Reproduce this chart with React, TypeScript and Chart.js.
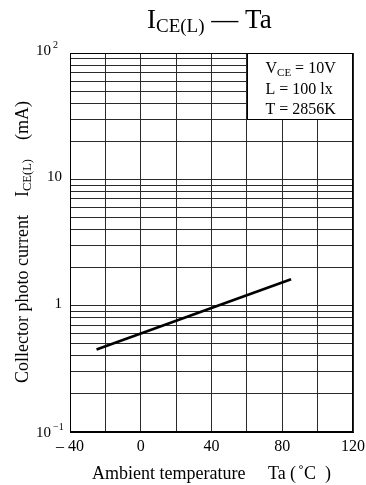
import React, { useEffect, useRef } from "react";
import { Chart, registerables } from "chart.js";

Chart.register(...registerables);

// ---- data ----
const temperatures = [-25, 85];
const photoCurrent = [0.45, 1.62];

const xGridValues = [-40, -20, 0, 20, 40, 60, 80, 100, 120];
const xTickValues = [-40, 0, 40, 80, 120];
const xTickLabels = ["\u2013 40", "0", "40", "80", "120"];

const yGridValues = [
  0.1, 0.2, 0.3, 0.4, 0.5, 0.6, 0.7, 0.8, 0.9,
  1, 2, 3, 4, 5, 6, 7, 8, 9,
  10, 20, 30, 40, 50, 60, 70, 80, 90, 100,
];
const yTickValues = [100, 10, 1, 0.1];
const yTickBases = ["10", "10", "1", "10"];
const yTickExponents = ["2", "", "", "\u22121"];

const boxXRange = [60, 120];
const boxYRange = [30, 100];

const FONT = '"Liberation Serif", "DejaVu Serif", serif';

function drawText(ctx: CanvasRenderingContext2D, s: string, x: number, y: number, size: number, align: CanvasTextAlign = "left") {
  ctx.font = `${size}px ${FONT}`;
  ctx.textAlign = align;
  ctx.textBaseline = "alphabetic";
  ctx.fillText(s, x, y);
  return ctx.measureText(s).width;
}

const decorPlugin = {
  id: "decor",
  beforeDatasetsDraw(chart: any) {
    const ctx: CanvasRenderingContext2D = chart.ctx;
    const { x, y } = chart.scales;
    const area = chart.chartArea;
    ctx.save();
    // frame
    ctx.strokeStyle = "#000";
    ctx.lineWidth = 1;
    ctx.strokeRect(Math.round(area.left) + 0.5, Math.round(area.top) + 0.5, Math.round(area.right - area.left) - 1, Math.round(area.bottom - area.top) - 1);
    // condition box
    const bl = Math.round(x.getPixelForValue(boxXRange[0])) + 0.5;
    const br = Math.round(x.getPixelForValue(boxXRange[1])) - 0.5;
    const bt = Math.round(y.getPixelForValue(boxYRange[1])) + 0.5;
    const bb = Math.round(y.getPixelForValue(boxYRange[0])) + 0.5;
    ctx.fillStyle = "#fff";
    ctx.fillRect(bl, bt, br - bl, bb - bt);
    ctx.strokeRect(bl, bt, br - bl, bb - bt);
    ctx.fillStyle = "#000";
    const tx = bl + 18;
    let w = drawText(ctx, "V", tx, bt + 19, 16);
    const w2 = drawText(ctx, "CE", tx + w, bt + 22, 11);
    drawText(ctx, " = 10V", tx + w + w2, bt + 19, 16);
    drawText(ctx, "L = 100 lx", tx, bt + 40, 16);
    drawText(ctx, "T = 2856K", tx, bt + 60, 16);
    ctx.restore();
  },
  afterDraw(chart: any) {
    const ctx: CanvasRenderingContext2D = chart.ctx;
    const { x, y } = chart.scales;
    const area = chart.chartArea;
    ctx.save();
    ctx.fillStyle = "#000";

    // title
    let tx = 147;
    tx += drawText(ctx, "I", tx, 28, 27);
    tx += drawText(ctx, "CE(L)", tx, 32, 19);
    drawText(ctx, " \u2014 Ta", tx, 28, 27);

    // y tick labels
    yTickValues.forEach((v, i) => {
      const py = y.getPixelForValue(v);
      const exp = yTickExponents[i];
      if (exp) {
        const off = i === yTickValues.length - 1 ? 5 : 2;
        drawText(ctx, yTickBases[i], 51, py + off, 15, "right");
        drawText(ctx, exp, 53, py + off - 7, 10);
      } else {
        drawText(ctx, yTickBases[i], 62, py + 2, 15, "right");
      }
    });

    // x tick labels
    xTickValues.forEach((v, i) => {
      drawText(ctx, xTickLabels[i], x.getPixelForValue(v), area.bottom + 19, 16, "center");
    });

    // x title
    drawText(ctx, "Ambient temperature", 92, 479, 18);
    drawText(ctx, "Ta", 268, 479, 18);
    drawText(ctx, "(", 290, 479, 18);
    drawText(ctx, "\u02DAC", 298, 479, 18);
    drawText(ctx, ")", 325, 479, 18);

    // y title (rotated)
    ctx.translate(28, 383);
    ctx.rotate(-Math.PI / 2);
    drawText(ctx, "Collector photo current", 0, 0, 18);
    const wi = drawText(ctx, "I", 186, 0, 18);
    drawText(ctx, "CE(L)", 186 + wi, 3, 12.5);
    drawText(ctx, "(mA)", 243, 0, 18);
    ctx.restore();
  },
};

export default function App() {
  const canvasRef = useRef<HTMLCanvasElement | null>(null);

  useEffect(() => {
    document.body.style.margin = "0";
    document.body.style.overflow = "hidden";
    const canvas = canvasRef.current;
    if (!canvas) return;
    const gridColor = "#2a2a2a";
    const chart = new Chart(canvas, {
      type: "line",
      data: {
        datasets: [
          {
            data: temperatures.map((t, i) => ({ x: t, y: photoCurrent[i] })),
            borderColor: "#000",
            borderWidth: 2.6,
            pointRadius: 0,
            fill: false,
            tension: 0,
          },
        ],
      },
      options: {
        animation: false,
        responsive: true,
        maintainAspectRatio: false,
        devicePixelRatio: 1,
        layout: { padding: { left: 70, right: 13, top: 53, bottom: 53 } },
        plugins: { legend: { display: false }, tooltip: { enabled: false }, title: { display: false } },
        scales: {
          x: {
            type: "linear",
            min: -40,
            max: 120,
            ticks: { display: false },
            grid: { color: gridColor, lineWidth: 1, drawTicks: false },
            border: { display: true, color: "#000", width: 1 },
            afterBuildTicks: (s: any) => {
              s.ticks = xGridValues.map((v) => ({ value: v }));
            },
            afterFit: (s: any) => {
              s.height = 0;
            },
          },
          y: {
            type: "logarithmic",
            min: 0.1,
            max: 100,
            ticks: { display: false },
            grid: { color: gridColor, lineWidth: 1, drawTicks: false },
            border: { display: true, color: "#000", width: 1 },
            afterBuildTicks: (s: any) => {
              s.ticks = yGridValues.map((v) => ({ value: v }));
            },
            afterFit: (s: any) => {
              s.width = 0;
            },
          },
        },
      } as any,
      plugins: [decorPlugin],
    });
    return () => chart.destroy();
  }, []);

  return (
    <div style={{ position: "relative", width: 366, height: 485 }}>
      <canvas ref={canvasRef} />
    </div>
  );
}
